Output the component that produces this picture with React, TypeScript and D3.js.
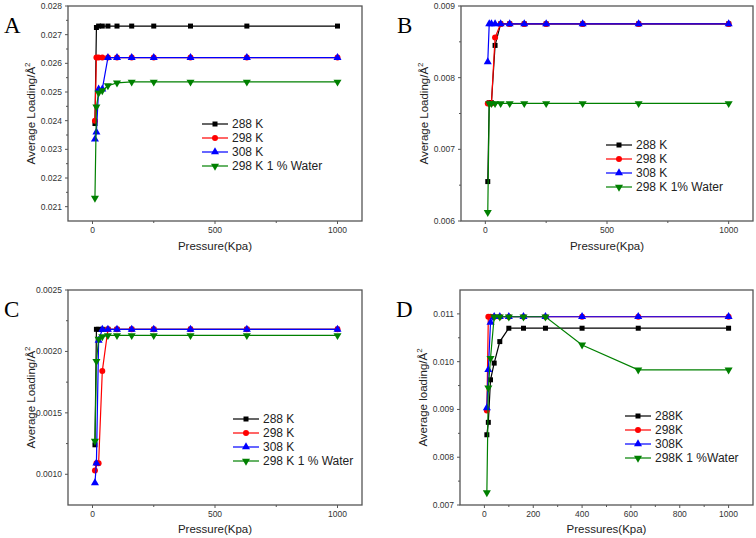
// App.tsx
import React from 'react';
import * as d3 from 'd3';

// pressures (kPa) shared by every series
const pressures = [10, 16, 25, 40, 63, 100, 160, 250, 400, 630, 1000];

// panel A
const a288 = [0.0239, 0.02725, 0.0273, 0.0273, 0.0273, 0.0273, 0.0273, 0.0273, 0.0273, 0.0273, 0.0273];
const a298 = [0.024, 0.0262, 0.0262, 0.0262, 0.0262, 0.0262, 0.0262, 0.0262, 0.0262, 0.0262, 0.0262];
const a308 = [0.02335, 0.0236, 0.0251, 0.0251, 0.0262, 0.0262, 0.0262, 0.0262, 0.0262, 0.0262, 0.0262];
const a298w = [0.0213, 0.02448, 0.02497, 0.02505, 0.02522, 0.02532, 0.02535, 0.02535, 0.02535, 0.02535, 0.02535];

// panel B
const b288 = [0.00655, 0.00765, 0.00765, 0.00845, 0.00875, 0.00875, 0.00875, 0.00875, 0.00875, 0.00875, 0.00875];
const b298 = [0.00764, 0.00764, 0.00764, 0.00856, 0.00875, 0.00875, 0.00875, 0.00875, 0.00875, 0.00875, 0.00875];
const b308 = [0.00822, 0.00875, 0.00875, 0.00875, 0.00875, 0.00875, 0.00875, 0.00875, 0.00875, 0.00875, 0.00875];
const b298w = [0.00612, 0.00764, 0.00764, 0.00764, 0.00764, 0.00764, 0.00764, 0.00764, 0.00764, 0.00764, 0.00764];

// panel C
const c288 = [0.00124, 0.00218, 0.00218, 0.00218, 0.00218, 0.00218, 0.00218, 0.00218, 0.00218, 0.00218, 0.00218];
const c298 = [0.00103, 0.00109, 0.00109, 0.00184, 0.00218, 0.00218, 0.00218, 0.00218, 0.00218, 0.00218, 0.00218];
const c308 = [0.00093, 0.00109, 0.00209, 0.00218, 0.00218, 0.00218, 0.00218, 0.00218, 0.00218, 0.00218, 0.00218];
const c298w = [0.00127, 0.00192, 0.0021, 0.00212, 0.00213, 0.00213, 0.00213, 0.00213, 0.00213, 0.00213, 0.00213];

// panel D
const d288 = [0.00847, 0.00873, 0.00962, 0.00997, 0.01042, 0.0107, 0.0107, 0.0107, 0.0107, 0.0107, 0.0107];
const d298 = [0.00898, 0.01094, 0.01094, 0.01094, 0.01094, 0.01094, 0.01094, 0.01094, 0.01094, 0.01094, 0.01094];
const d308 = [0.00903, 0.00983, 0.01082, 0.01094, 0.01094, 0.01094, 0.01094, 0.01094, 0.01094, 0.01094, 0.01094];
const d298w = [0.00726, 0.00945, 0.01007, 0.01094, 0.01094, 0.01094, 0.01094, 0.01094, 0.01035, 0.00983, 0.00983];

// tick values
const yTicksA = [0.021, 0.022, 0.023, 0.024, 0.025, 0.026, 0.027, 0.028];
const yTicksB = [0.006, 0.007, 0.008, 0.009];
const yTicksC = [0.001, 0.0015, 0.002, 0.0025];
const yTicksD = [0.007, 0.008, 0.009, 0.01, 0.011];
const xTicksABC = [0, 500, 1000];
const xTicksD = [0, 200, 400, 600, 800, 1000];

// legend labels
const legendA = ['288 K', '298 K', '308 K', '298 K 1 % Water'];
const legendB = ['288 K', '298 K', '308 K', '298 K 1% Water'];
const legendD = ['288K', '298K', '308K', '298K 1 %Water'];

const colors = ['#000000', '#ff0000', '#0000ff', '#008000'];
const font = 'Liberation Sans, Arial, sans-serif';

const markerPath = (i: number) => {
  if (i === 0) return d3.symbol(d3.symbolSquare, 25)()!;
  if (i === 1) return d3.symbol(d3.symbolCircle, 28)()!;
  return d3.symbol(d3.symbolTriangle, 28)()!;
};

const Marker = ({ i, x, y }: { i: number; x: number; y: number }) => (
  <path
    d={markerPath(i)}
    fill={colors[i]}
    transform={`translate(${x},${y})${i === 3 ? ' rotate(180)' : ''}`}
  />
);

type PanelProps = {
  letter: string;
  left: number; right: number; top: number; bottom: number;
  yDomain: [number, number];
  yTicks: number[];
  yFmt: string;
  xTicks: number[];
  series: number[][];
  labels: string[];
  legendX: number; legendY: number;
  xTitle: string;
  yTitle: string;
  titleGap: number;
};

const Panel = (p: PanelProps) => {
  const x = d3.scaleLinear().domain([-100, 1100]).range([p.left, p.right]);
  const y = d3.scaleLinear().domain(p.yDomain).range([p.bottom, p.top]);
  const fmt = d3.format(p.yFmt);
  const line = d3.line<number>().x((d, i) => x(pressures[i])).y((d) => y(d));
  const yStep = p.yTicks[1] - p.yTicks[0];
  const yMinor = p.yTicks.map((t) => t + yStep / 2).filter((t) => t < p.yDomain[1]);
  const xStep = p.xTicks[1] - p.xTicks[0];
  const xMinor = p.xTicks.map((t) => t + xStep / 2).filter((t) => t < 1100);
  const cy = (p.top + p.bottom) / 2;
  const cx = (p.left + p.right) / 2;
  return (
    <g>
      <text x={p.left - 64} y={p.top + 27} fontFamily="Liberation Serif, Times New Roman, serif" fontSize={23}>
        {p.letter}
      </text>
      {/* frame */}
      <rect x={p.left} y={p.top} width={p.right - p.left} height={p.bottom - p.top}
        fill="none" stroke="#555" strokeWidth={1.3} />
      {/* y ticks */}
      {p.yTicks.map((t) => (
        <g key={t}>
          <line x1={p.left - 3} x2={p.left} y1={y(t)} y2={y(t)} stroke="#555" />
          <text x={p.left - 6} y={y(t)} dy="0.35em" textAnchor="end" fontSize={8.5} fill="#333" fontFamily={font}>
            {fmt(t)}
          </text>
        </g>
      ))}
      {yMinor.map((t) => (
        <line key={'m' + t} x1={p.left - 2} x2={p.left} y1={y(t)} y2={y(t)} stroke="#555" />
      ))}
      {/* x ticks */}
      {p.xTicks.map((t) => (
        <g key={t}>
          <line x1={x(t)} x2={x(t)} y1={p.bottom} y2={p.bottom + 3} stroke="#555" />
          <text x={x(t)} y={p.bottom + 12} textAnchor="middle" fontSize={8.5} fill="#333" fontFamily={font}>
            {t}
          </text>
        </g>
      ))}
      {xMinor.map((t) => (
        <line key={'m' + t} x1={x(t)} x2={x(t)} y1={p.bottom} y2={p.bottom + 2} stroke="#555" />
      ))}
      {/* titles */}
      <text x={cx} y={p.bottom + p.titleGap} textAnchor="middle" fontSize={11.5} fill="#222" fontFamily={font}>
        {p.xTitle}
      </text>
      <text transform={`translate(${p.left - 33},${cy}) rotate(-90)`} textAnchor="middle" fontSize={11.5}
        fill="#222" fontFamily={font}>
        {p.yTitle}
        <tspan dy={-5} fontSize={8}>2</tspan>
      </text>
      {/* series */}
      {p.series.map((s, i) => (
        <g key={i}>
          <path d={line(s)!} fill="none" stroke={colors[i]} strokeWidth={1.2} />
          {s.map((v, j) => (
            <Marker key={j} i={i} x={x(pressures[j])} y={y(v)} />
          ))}
        </g>
      ))}
      {/* legend */}
      {p.labels.map((l, i) => {
        const ly = p.legendY + i * 14;
        return (
          <g key={l}>
            <line x1={p.legendX} x2={p.legendX + 26} y1={ly} y2={ly} stroke={colors[i]} strokeWidth={1.2} />
            <Marker i={i} x={p.legendX + 13} y={ly} />
            <text x={p.legendX + 30} y={ly} dy="0.35em" fontSize={12} fill="#222" fontFamily={font}>
              {l}
            </text>
          </g>
        );
      })}
    </g>
  );
};

export default function App() {
  return (
    <div style={{ position: 'absolute', left: 0, top: 0, background: '#fff' }}>
      <svg width={756} height={538} style={{ display: 'block' }}>
        <Panel letter="A" left={68} right={362} top={6} bottom={221}
          yDomain={[0.0205, 0.028]} yTicks={yTicksA} yFmt=".3f" xTicks={xTicksABC}
          series={[a288, a298, a308, a298w]} labels={legendA} legendX={202} legendY={124}
          xTitle="Pressure(Kpa)" yTitle="Average Loading/Å" titleGap={29} />
        <Panel letter="B" left={461} right={753} top={6} bottom={221}
          yDomain={[0.006, 0.009]} yTicks={yTicksB} yFmt=".3f" xTicks={xTicksABC}
          series={[b288, b298, b308, b298w]} labels={legendB} legendX={606} legendY={145}
          xTitle="Pressure(Kpa)" yTitle="Average Loading/Å" titleGap={29} />
        <Panel letter="C" left={68} right={362} top={290} bottom={505}
          yDomain={[0.00075, 0.0025]} yTicks={yTicksC} yFmt=".4f" xTicks={xTicksABC}
          series={[c288, c298, c308, c298w]} labels={legendA} legendX={233} legendY={419}
          xTitle="Pressure(Kpa)" yTitle="Average Loading/Å" titleGap={28} />
        <Panel letter="D" left={460} right={753} top={290} bottom={505}
          yDomain={[0.007, 0.0115]} yTicks={yTicksD} yFmt=".3f" xTicks={xTicksD}
          series={[d288, d298, d308, d298w]} labels={legendD} legendX={625} legendY={416}
          xTitle="Pressures(Kpa)" yTitle="Average loading/Å" titleGap={28} />
      </svg>
    </div>
  );
}
